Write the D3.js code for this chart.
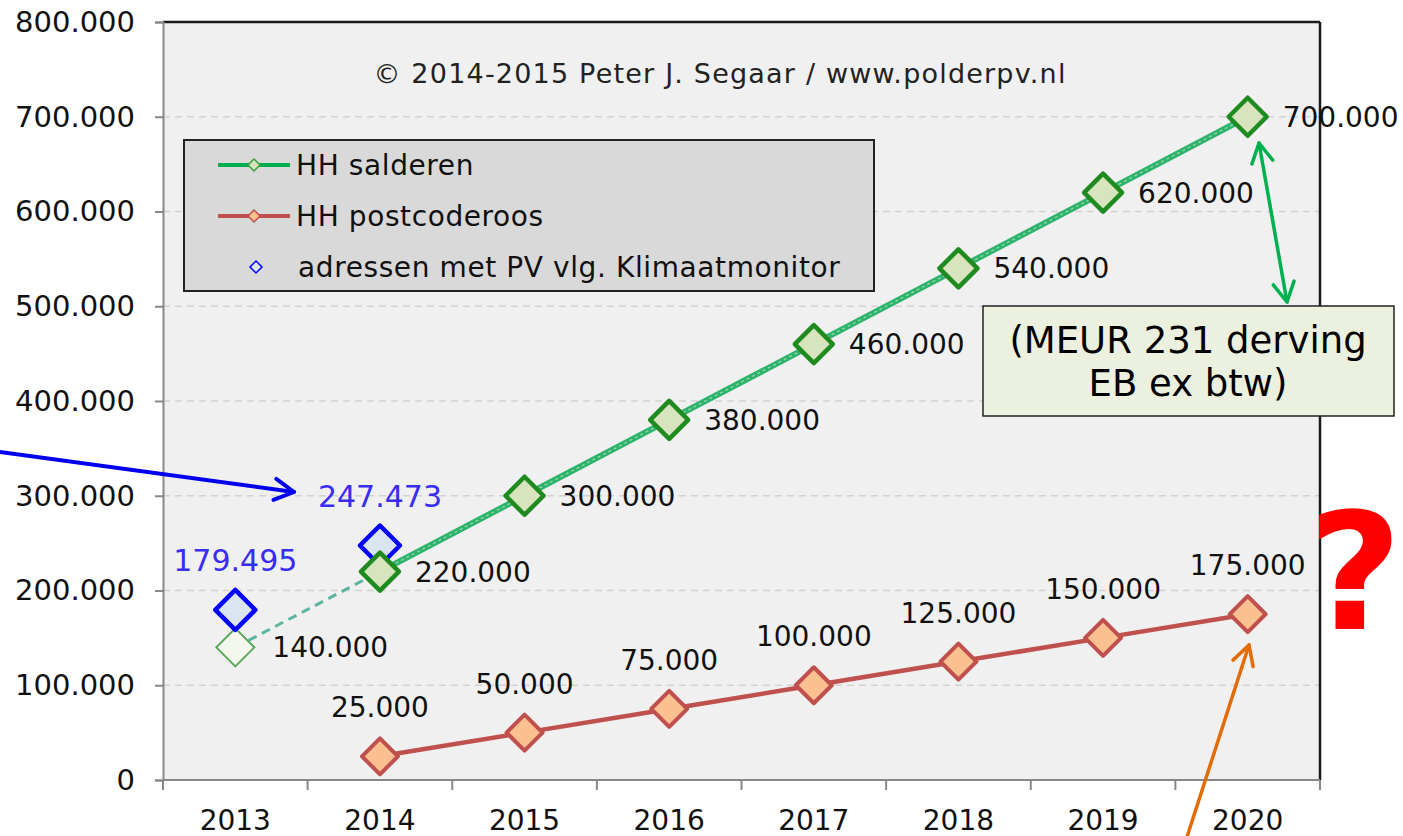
<!DOCTYPE html>
<html><head><meta charset="utf-8">
<script src="https://cdn.jsdelivr.net/npm/d3@7"></script>
<style>body{margin:0;background:#fff;}svg{display:block;}</style>
</head><body>
<svg id="chart" width="1403" height="836"></svg>
<script>
const years = ["2013","2014","2015","2016","2017","2018","2019","2020"];
const yTicks = [0,100000,200000,300000,400000,500000,600000,700000,800000];
const saldYears = ["2014","2015","2016","2017","2018","2019","2020"];
const saldValues = [220000,300000,380000,460000,540000,620000,700000];
const saldProjYear = "2013";
const saldProjValue = 140000;
const pcrYears = ["2014","2015","2016","2017","2018","2019","2020"];
const pcrValues = [25000,50000,75000,100000,125000,150000,175000];
const kmYears = ["2013","2014"];
const kmValues = [179495,247473];
const legendLabels = ["HH salderen","HH postcoderoos","adressen met PV vlg. Klimaatmonitor"];
const copyright = "© 2014-2015 Peter J. Segaar / www.polderpv.nl";
const noteLines = ["(MEUR 231 derving","EB ex btw)"];

const svg = d3.select("#chart");
const L=163, R=1320, T=22, B=780;
const x = d3.scaleBand().domain(years).range([L,R]).padding(0);
const cx = d => x(d) + x.bandwidth()/2;
const y = d3.scaleLinear().domain([0,800000]).range([B,T]);
const nl = d3.formatLocale({decimal:",",thousands:".",grouping:[3],currency:["",""]});
const fmt = nl.format(",d");
const FONT = "'DejaVu Sans', Verdana, sans-serif";

// background
svg.append("rect").attr("x",L).attr("y",T).attr("width",R-L).attr("height",B-T).attr("fill","#f0f0f0");
// grid
svg.append("g").selectAll("line").data(yTicks.filter(v=>v>0 && v<800000)).join("line")
  .attr("x1",L).attr("x2",R).attr("y1",d=>y(d)).attr("y2",d=>y(d))
  .attr("stroke","#d2d2d2").attr("stroke-width",1.5).attr("stroke-dasharray","7,5");
// borders
svg.append("line").attr("x1",L).attr("x2",R).attr("y1",T).attr("y2",T).attr("stroke","#1a1a1a").attr("stroke-width",2.5);
svg.append("line").attr("x1",R).attr("x2",R).attr("y1",T).attr("y2",B).attr("stroke","#1a1a1a").attr("stroke-width",2.5);

// y axis
const yAxis = d3.axisLeft(y).tickValues(yTicks).tickFormat(fmt).tickSize(8).tickPadding(20);
const gy = svg.append("g").attr("transform",`translate(${L},0)`).call(yAxis);
gy.select(".domain").attr("stroke","#888").attr("stroke-width",2);
gy.selectAll(".tick line").attr("stroke","#888").attr("stroke-width",2);
gy.selectAll(".tick text").attr("font-family",FONT).attr("font-size",29).attr("fill","#111");

// x axis with ticks at band boundaries
const gx = svg.append("g").attr("transform",`translate(0,${B})`);
gx.append("line").attr("x1",L).attr("x2",R).attr("stroke","#888").attr("stroke-width",2);
gx.selectAll("line.tk").data(years.concat(["end"])).join("line").attr("class","tk")
  .attr("x1",d=>d==="end"?R:x(d)).attr("x2",d=>d==="end"?R:x(d)).attr("y1",0).attr("y2",10)
  .attr("stroke","#888").attr("stroke-width",2);
gx.selectAll("text").data(years).join("text")
  .attr("x",d=>cx(d)).attr("y",50).attr("text-anchor","middle")
  .attr("font-family",FONT).attr("font-size",28).attr("fill","#111").text(d=>d);

// copyright
svg.append("text").attr("x",720).attr("y",83).attr("text-anchor","middle")
  .attr("font-family",FONT).attr("font-size",27).attr("letter-spacing",1.2).attr("fill","#222").text(copyright);

const diamond = (px,py,r) => `M${px},${py-r}L${px+r},${py}L${px},${py+r}L${px-r},${py}Z`;

// dashed projection segment
svg.append("line").attr("x1",cx(saldProjYear)).attr("y1",y(saldProjValue))
  .attr("x2",cx(saldYears[0])).attr("y2",y(saldValues[0]))
  .attr("stroke","#5db59f").attr("stroke-width",3).attr("stroke-dasharray","9,6");

// lines
const saldData = saldYears.map((d,i)=>({yr:d,v:saldValues[i]}));
const pcrData = pcrYears.map((d,i)=>({yr:d,v:pcrValues[i]}));
const line = d3.line().x(d=>cx(d.yr)).y(d=>y(d.v));
svg.append("path").datum(saldData).attr("d",line).attr("fill","none").attr("stroke","#2db36b").attr("stroke-width",6);
svg.append("path").datum(saldData).attr("d",line).attr("fill","none").attr("stroke","#9fd6b4").attr("stroke-width",1.2).attr("stroke-dasharray","3,3");
svg.append("path").datum(pcrData).attr("d",line).attr("fill","none").attr("stroke","#c0504d").attr("stroke-width",4.5);

// projection hollow marker
svg.append("path").attr("d",diamond(cx(saldProjYear),y(saldProjValue),19))
  .attr("fill","#f3f7ee").attr("stroke","#5aa85a").attr("stroke-width",2);
svg.append("text").attr("x",cx(saldProjYear)+37).attr("y",y(saldProjValue)+10)
  .attr("font-family",FONT).attr("font-size",28).attr("fill","#111").text(fmt(saldProjValue));

// klimaatmonitor markers
svg.append("g").selectAll("path").data(kmYears.map((d,i)=>({yr:d,v:kmValues[i]}))).join("path")
  .attr("d",d=>diamond(cx(d.yr),y(d.v),20)).attr("fill","#dbe5f1").attr("stroke","#0000ff").attr("stroke-width",4.5).attr("stroke-linejoin","round");
svg.append("g").selectAll("text").data(kmYears.map((d,i)=>({yr:d,v:kmValues[i]}))).join("text")
  .attr("x",d=>cx(d.yr)).attr("y",d=>y(d.v)-39).attr("text-anchor","middle")
  .attr("font-family",FONT).attr("font-size",30).attr("fill","#3a2cf0").text(d=>fmt(d.v));

// salderen markers
svg.append("g").selectAll("path").data(saldData).join("path")
  .attr("d",d=>diamond(cx(d.yr),y(d.v),19)).attr("fill","#d7e4bd").attr("stroke","#1f8a1f").attr("stroke-width",4.5).attr("stroke-linejoin","round");
svg.append("g").selectAll("text").data(saldData).join("text")
  .attr("x",d=>cx(d.yr)+35).attr("y",d=>y(d.v)+10)
  .attr("font-family",FONT).attr("font-size",28).attr("fill","#111").text(d=>fmt(d.v));

// postcoderoos markers
svg.append("g").selectAll("path").data(pcrData).join("path")
  .attr("d",d=>diamond(cx(d.yr),y(d.v),18)).attr("fill","#fac090").attr("stroke","#c0504d").attr("stroke-width",4).attr("stroke-linejoin","round");
svg.append("g").selectAll("text").data(pcrData).join("text")
  .attr("x",d=>cx(d.yr)).attr("y",d=>y(d.v)-39).attr("text-anchor","middle")
  .attr("font-family",FONT).attr("font-size",28).attr("fill","#111").text(d=>fmt(d.v));

// legend
const lg = svg.append("g");
lg.append("rect").attr("x",184).attr("y",140).attr("width",690).attr("height",151).attr("fill","#d9d9d9").attr("stroke","#222").attr("stroke-width",2);
const legendStyles = [
  {line:"#00b050",fill:"#d7e4bd",stroke:"#3aa03a",lw:4},
  {line:"#c0504d",fill:"#fac090",stroke:"#c0504d",lw:4},
  {line:null,fill:"#dbe5f1",stroke:"#0000ff",lw:0}
];
legendLabels.forEach((lab,i)=>{
  const ly = 165 + i*51;
  const s = legendStyles[i];
  if(s.line) lg.append("line").attr("x1",218).attr("x2",290).attr("y1",ly).attr("y2",ly).attr("stroke",s.line).attr("stroke-width",s.lw);
  lg.append("path").attr("d",diamond(i<2?254:256,ly,6)).attr("fill",s.fill).attr("stroke",s.stroke).attr("stroke-width",1.5);
  lg.append("text").attr("x",i<2?296:298).attr("y",ly+10).attr("font-family",FONT).attr("font-size",28).attr("letter-spacing",0.6).attr("fill","#111").text(lab);
});

// note box
svg.append("rect").attr("x",983).attr("y",306).attr("width",411).attr("height",110).attr("fill","#ebf1de").attr("stroke","#222").attr("stroke-width",1.5);
noteLines.forEach((t,i)=>{
  svg.append("text").attr("x",1188).attr("y",353+i*43).attr("text-anchor","middle")
    .attr("font-family",FONT).attr("font-size",37).attr("fill","#000").text(t);
});

// arrows
function arrow(x1,y1,x2,y2,color,w,both){
  const g = svg.append("g").attr("stroke",color).attr("stroke-width",w).attr("fill","none").attr("stroke-linecap","round").attr("stroke-linejoin","round");
  g.append("line").attr("x1",x1).attr("y1",y1).attr("x2",x2).attr("y2",y2);
  const head=(ax,ay,bx,by)=>{
    const a=Math.atan2(by-ay,bx-ax), len=22, sp=0.5;
    g.append("path").attr("d",`M${bx-len*Math.cos(a-sp)},${by-len*Math.sin(a-sp)}L${bx},${by}L${bx-len*Math.cos(a+sp)},${by-len*Math.sin(a+sp)}`);
  };
  head(x1,y1,x2,y2);
  if(both) head(x2,y2,x1,y1);
}
arrow(0,452,294,492,"#0000ee",4,false);
arrow(1287,302,1259,143,"#00b050",3.5,true);
arrow(1186,840,1249,645,"#e36c09",3.5,false);

// question mark
svg.append("text").attr("x",1355).attr("y",629).attr("text-anchor","middle")
  .attr("font-family",FONT).attr("font-weight","bold").attr("font-size",162).attr("fill","#ff0000").text("?");
</script>
</body></html>
